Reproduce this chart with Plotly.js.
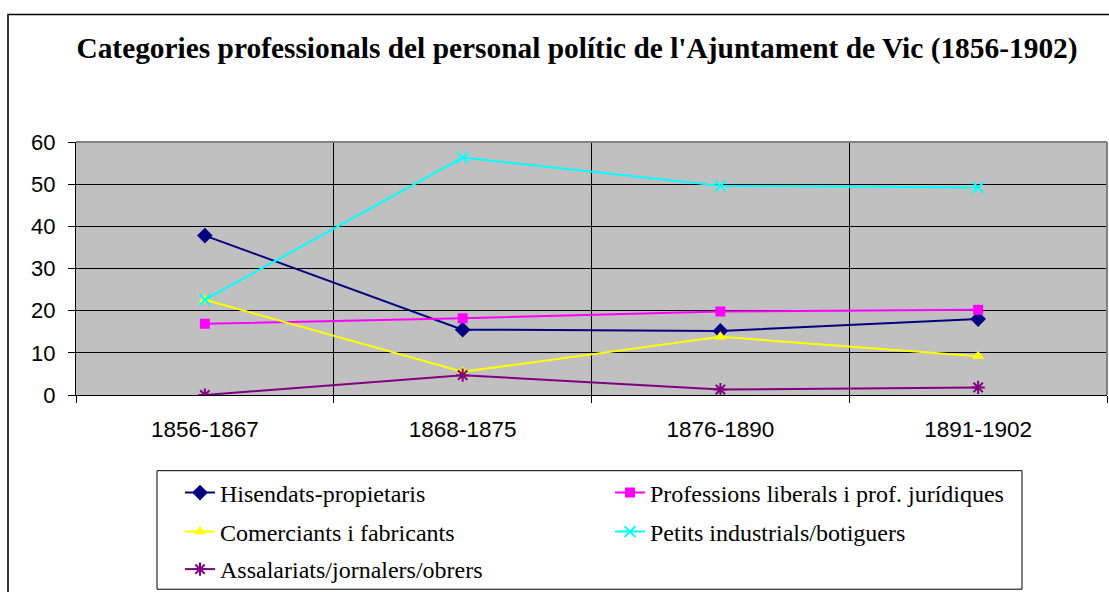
<!DOCTYPE html>
<html>
<head>
<meta charset="utf-8">
<script src="https://cdn.plot.ly/plotly-3.0.1.min.js"></script>
<style>html,body{margin:0;padding:0;background:#fff;}#chart{width:1109px;height:592px;}</style>
</head>
<body>
<div id="chart"></div>
<script>
const periods = ["1856-1867", "1868-1875", "1876-1890", "1891-1902"];
const hisendats = [37.8, 15.5, 15.2, 18.0];
const professions = [16.9, 18.2, 19.8, 20.2];
const comerciants = [22.6, 5.5, 13.8, 9.2];
const petits = [22.6, 56.3, 49.6, 49.2];
const assalariats = [0, 4.7, 1.3, 1.8];
const seriesNames = ["Hisendats-propietaris", "Professions liberals i prof. jurídiques", "Comerciants i fabricants", "Petits industrials/botiguers", "Assalariats/jornalers/obrers"];

const styles = [
  {color: "#000080", symbol: "diamond", size: 12, legend: "legend"},
  {color: "#FF00FF", symbol: "square", size: 10, legend: "legend"},
  {color: "#FFFF00", symbol: "triangle-up", size: 11, legend: "legend2"},
  {color: "#00FFFF", symbol: "x-thin-open", size: 11, legend: "legend2"},
  {color: "#800080", symbol: "asterisk-open", size: 11, legend: "legend3"}
];
const allValues = [hisendats, professions, comerciants, petits, assalariats];

const traces = allValues.map((vals, i) => ({
  type: "scatter",
  mode: "lines+markers",
  x: periods,
  y: vals,
  name: seriesNames[i],
  legend: styles[i].legend,
  line: {color: styles[i].color, width: 2},
  marker: {color: styles[i].color, symbol: styles[i].symbol, size: styles[i].size,
           line: {color: styles[i].color, width: (styles[i].symbol.indexOf("open") >= 0 ? 2 : 0)}}
}));

const plotL = 76, plotR = 1107, plotT = 142, plotB = 396;
const pw = plotR - plotL, ph = plotB - plotT;
const px = v => (v - plotL) / pw;
const py = v => (plotB - v) / ph;

function mkLegend(rowY) {
  return {
    orientation: "h",
    x: px(180), xanchor: "left",
    y: py(rowY), yanchor: "middle",
    borderwidth: 0, bgcolor: "rgba(0,0,0,0)",
    font: {family: "Liberation Serif, Times New Roman, serif", size: 24, color: "#000"},
    entrywidth: 385, entrywidthmode: "pixels",
    traceorder: "normal"
  };
}

const layout = {
  width: 1109, height: 592,
  margin: {l: plotL, r: 1109 - plotR, t: plotT, b: 592 - plotB},
  paper_bgcolor: "#ffffff",
  plot_bgcolor: "#C0C0C0",
  showlegend: true,
  title: {
    text: "<b>Categories professionals del personal polític de l'Ajuntament de Vic (1856-1902)</b>",
    font: {family: "Liberation Serif, Times New Roman, serif", size: 29.4, color: "#000"},
    x: px(577), xanchor: "center", xref: "paper",
    y: 1 - 48/592, yanchor: "middle", yref: "container"
  },
  xaxis: {
    type: "category",
    range: [-0.5, 3.5],
    tickson: "boundaries",
    ticks: "outside", ticklen: 7, tickcolor: "#000",
    showgrid: true, gridcolor: "#000", gridwidth: 1,
    showline: true, linecolor: "#000", linewidth: 1,
    tickfont: {family: "Liberation Sans, Arial, sans-serif", size: 22.5, color: "#000"},
    ticklabelstandoff: 14,
    zeroline: false, fixedrange: true
  },
  yaxis: {
    range: [0, 60], dtick: 10, tick0: 0,
    ticks: "outside", ticklen: 7, tickcolor: "#000",
    showgrid: true, gridcolor: "#000", gridwidth: 1,
    showline: true, linecolor: "#000", linewidth: 1,
    tickfont: {family: "Liberation Sans, Arial, sans-serif", size: 22, color: "#000"},
    ticklabelstandoff: 8,
    zeroline: false, fixedrange: true
  },
  legend: mkLegend(493),
  legend2: mkLegend(532),
  legend3: mkLegend(570),
  shapes: [
    {type: "rect", xref: "paper", yref: "paper", x0: px(8), x1: px(1120),
     y0: py(620), y1: py(14), line: {color: "#000", width: 1.5}, layer: "below"},
    {type: "rect", xref: "paper", yref: "paper", x0: px(157), x1: px(1022),
     y0: py(591), y1: py(472), line: {color: "#000", width: 1}, fillcolor: "rgba(0,0,0,0)", layer: "below"},
    {type: "line", xref: "paper", yref: "paper", x0: 0, x1: 1, y0: 1, y1: 1, line: {color: "#808080", width: 2}},
    {type: "line", xref: "paper", yref: "paper", x0: 1, x1: 1, y0: 0, y1: 1, line: {color: "#808080", width: 2}}
  ]
};

Plotly.newPlot("chart", traces, layout, {displayModeBar: false, staticPlot: true});
</script>
</body>
</html>
